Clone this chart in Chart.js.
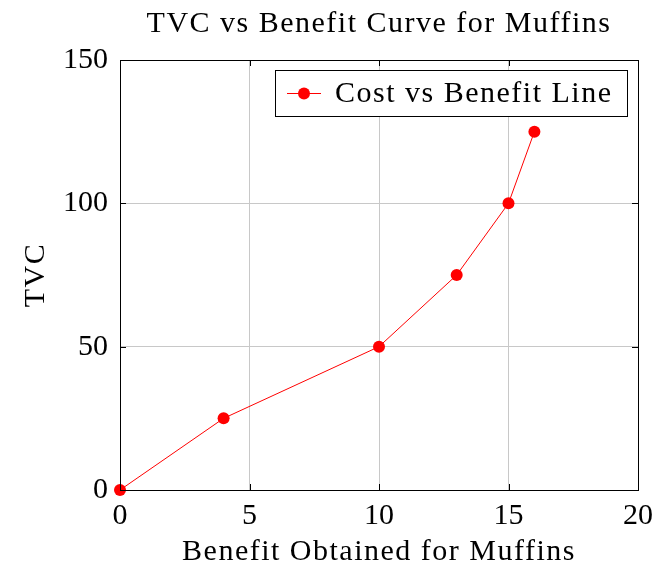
<!DOCTYPE html>
<html>
<head>
  <meta charset="UTF-8" />
  <title>TVC vs Benefit Curve for Muffins</title>
  <script src="https://cdn.jsdelivr.net/npm/chart.js"></script>
  <style>
    body, html { margin: 0; padding: 0; background: #fff; }
    #wrap { width: 654px; height: 570px; }
  </style>
</head>
<body>
  <div id="wrap"><canvas id="c" width="654" height="570"></canvas></div>
  <script>
    const benefit = [0, 4, 10, 13, 15, 16];
    const tvc = [0, 25, 50, 75, 100, 125];
    const xTicks = [0, 5, 10, 15, 20];
    const yTicks = [0, 50, 100, 150];
    const seriesName = 'Cost vs Benefit Line';
    const chartTitle = 'TVC vs Benefit Curve for Muffins';
    const xTitle = 'Benefit Obtained for Muffins';
    const yTitle = 'TVC';

    const serif = '"Liberation Serif", "DejaVu Serif", serif';
    const red = '#ff0000';

    // titles, inward ticks and the legend box, pgfplots style
    const decor = {
      id: 'decor',
      afterDraw(chart) {
        const ctx = chart.ctx;
        const a = chart.chartArea;
        const xs = chart.scales.x, ys = chart.scales.y;
        ctx.save();
        ctx.strokeStyle = '#000';
        ctx.lineWidth = 1;
        xTicks.forEach(v => {
          const px = Math.round(xs.getPixelForValue(v)) + 0.5;
          ctx.beginPath();
          ctx.moveTo(px, a.bottom); ctx.lineTo(px, a.bottom - 6);
          ctx.moveTo(px, a.top); ctx.lineTo(px, a.top + 6);
          ctx.stroke();
        });
        yTicks.forEach(v => {
          const py = Math.round(ys.getPixelForValue(v)) + 0.5;
          ctx.beginPath();
          ctx.moveTo(a.left, py); ctx.lineTo(a.left + 6, py);
          ctx.moveTo(a.right, py); ctx.lineTo(a.right - 6, py);
          ctx.stroke();
        });
        ctx.strokeRect(Math.round(a.left) + 0.5, Math.round(a.top) + 0.5,
          Math.round(a.right - a.left), Math.round(a.bottom - a.top));

        ctx.fillStyle = '#000';
        ctx.textAlign = 'center';
        ctx.textBaseline = 'middle';
        ctx.letterSpacing = '1.5px';
        const cx = (a.left + a.right) / 2;
        ctx.font = '30px ' + serif;
        ctx.fillText(chartTitle, cx, 24);
        ctx.fillText(xTitle, cx, 552);
        ctx.translate(36, (a.top + a.bottom) / 2);
        ctx.rotate(-Math.PI / 2);
        ctx.fillText(yTitle, 0, 0);
        ctx.restore();

        // legend
        ctx.save();
        const bx = 275.5, by = 70.5, bw = 352, bh = 46;
        ctx.fillStyle = '#fff';
        ctx.fillRect(bx, by, bw, bh);
        ctx.strokeStyle = '#000';
        ctx.lineWidth = 1;
        ctx.strokeRect(bx, by, bw, bh);
        const ly = by + bh / 2;
        ctx.strokeStyle = red;
        ctx.beginPath();
        ctx.moveTo(287, ly); ctx.lineTo(321, ly);
        ctx.stroke();
        ctx.fillStyle = red;
        ctx.beginPath();
        ctx.arc(304, ly, 6, 0, Math.PI * 2);
        ctx.fill();
        ctx.fillStyle = '#000';
        ctx.font = '30px ' + serif;
        ctx.letterSpacing = '1.5px';
        ctx.textAlign = 'left';
        ctx.textBaseline = 'middle';
        ctx.fillText(chart.data.datasets[0].label, 335, ly + 1);
        ctx.restore();
      }
    };

    new Chart(document.getElementById('c'), {
      type: 'scatter',
      data: {
        datasets: [{
          label: seriesName,
          data: benefit.map((b, i) => ({ x: b, y: tvc[i] })),
          showLine: true,
          clip: false,
          borderColor: red,
          backgroundColor: red,
          borderWidth: 1,
          pointRadius: 6,
          pointHoverRadius: 6,
          pointBorderWidth: 0,
          tension: 0
        }]
      },
      options: {
        responsive: false,
        animation: false,
        layout: { padding: { left: 0, right: 16, top: 60, bottom: 0 } },
        plugins: {
          legend: { display: false },
          title: { display: false },
          tooltip: { enabled: false }
        },
        scales: {
          x: {
            type: 'linear', min: 0, max: 20,
            afterBuildTicks: s => { s.ticks = xTicks.map(v => ({ value: v })); },
            afterFit: s => { s.height = 80; s.paddingLeft = 0; s.paddingRight = 0; },
            grid: { color: '#c8c8c8', drawTicks: false },
            border: { display: false },
            ticks: { color: '#000', padding: 8, maxRotation: 0, font: { family: serif, size: 30 } }
          },
          y: {
            type: 'linear', min: 0, max: 150,
            afterBuildTicks: s => { s.ticks = yTicks.map(v => ({ value: v })); },
            afterFit: s => { s.width = 120; s.paddingTop = 0; s.paddingBottom = 0; },
            grid: { color: '#c8c8c8', drawTicks: false },
            border: { display: false },
            ticks: { color: '#000', padding: 12, font: { family: serif, size: 30 } }
          }
        }
      },
      plugins: [decor]
    });
  </script>
</body>
</html>
